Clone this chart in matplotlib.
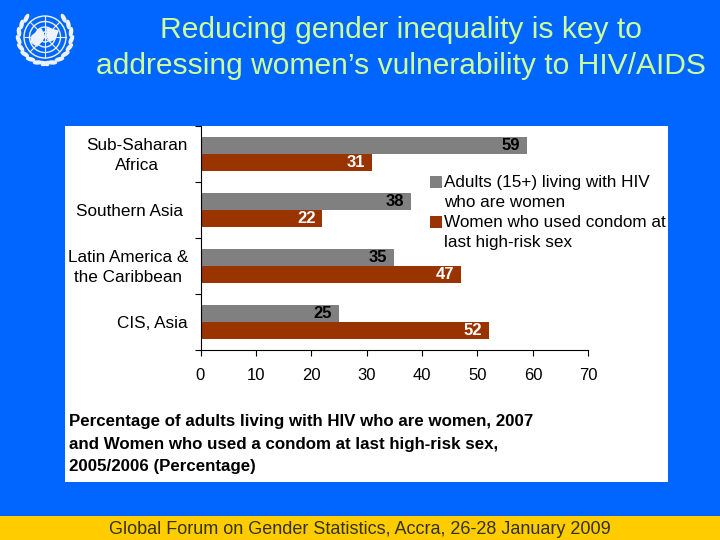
import numpy as np
import matplotlib
matplotlib.use("Agg")
import matplotlib.pyplot as plt
from matplotlib.patches import Circle, Ellipse, Rectangle, Polygon
from matplotlib.transforms import ScaledTranslation

plt.rcParams["font.family"] = ["Liberation Sans", "DejaVu Sans"]

W, H = 720, 540
BLUE = "#0066ff"
YELLOW = "#ffcc00"
GRAY = "#808080"
BROWN = "#993300"
PALE = "#ccff99"

categories = ["Sub-Saharan\nAfrica", "Southern Asia ", "Latin America &\nthe Caribbean", "CIS, Asia"]
hiv_women = [59, 38, 35, 25]
condom_use = [31, 22, 47, 52]
series_names = ["Adults (15+) living with HIV\nwho are women",
                "Women who used condom at\nlast high-risk sex"]
x_ticks = [0, 10, 20, 30, 40, 50, 60, 70]
title = "Reducing gender inequality is key to\naddressing women’s vulnerability to HIV/AIDS"
note_lines = ["Percentage of adults living with HIV who are women, 2007",
              "and Women who used a condom at last high-risk sex,",
              "2005/2006 (Percentage)"]
footer = "Global Forum on Gender Statistics, Accra, 26-28 January 2009"


def px_axes(fig, x0, y0, x1, y1):
    """Axes a partir de un recuadro en pixeles (origen arriba a la izquierda)."""
    return fig.add_axes([x0 / W, 1 - y1 / H, (x1 - x0) / W, (y1 - y0) / H])


def draw_logo(bg, cx, cy):
    # emblema simplificado: globo con meridianos y corona de laurel
    white = "#eef3fb"
    for r in (21, 15.5, 10, 5):
        bg.add_patch(Circle((cx, cy), r, fill=False, ec=white, lw=1.0))
    for ang in np.arange(0, 180, 45):
        dx, dy = 21 * np.cos(np.radians(ang)), 21 * np.sin(np.radians(ang))
        bg.plot([cx - dx, cx + dx], [cy - dy, cy + dy], color=white, lw=0.8)
    bg.add_patch(Polygon([(cx - 13, cy - 1), (cx - 4, cy - 8), (cx - 1, cy - 2),
                          (cx - 3, cy + 4), (cx - 8, cy + 9), (cx - 14, cy + 5)], color=white))
    bg.add_patch(Polygon([(cx + 2, cy - 9), (cx + 13, cy - 6), (cx + 10, cy + 2),
                          (cx + 5, cy + 4), (cx + 2, cy - 1)], color=white))
    for side in (-1, 1):
        for ang in np.arange(-45, 92, 17):
            a = np.radians(ang)
            ex = cx + side * 26.5 * np.cos(a)
            ey = cy + 26.5 * np.sin(a)
            bg.add_patch(Ellipse((ex, ey), 3.0, 8.5, angle=side * (ang + 18), color=white))


fig = plt.figure(figsize=(W / 100, H / 100), dpi=100, facecolor=BLUE)

# fondo, texto libre y leyenda en coordenadas de pixel
bg = fig.add_axes([0, 0, 1, 1], zorder=0)
bg.set_xlim(0, W)
bg.set_ylim(H, 0)
bg.axis("off")
bg.add_patch(Rectangle((65, 126), 603, 356, color="white", lw=0))
bg.add_patch(Rectangle((0, 516), W, 24, color=YELLOW, lw=0))
draw_logo(bg, 45, 37)

bg.text(401, 48, title, color=PALE, fontsize=21.6, ha="center", va="center", linespacing=1.36)
for y, line in zip((421.5, 444.5, 466.5), note_lines):
    bg.text(69, y, line, color="black", fontsize=12.2, fontweight="bold", va="center")
bg.text(359.5, 529, footer, color="#333300", fontsize=13, ha="center", va="center")

for y, col, name in zip((182, 222), (GRAY, BROWN), series_names):
    bg.add_patch(Rectangle((430, y - 6), 12, 12, color=col, lw=0))
    bg.text(444, y - 7, name, color="black", fontsize=12.3, va="top", linespacing=1.4)

# grafico de barras
ax = px_axes(fig, 200.5, 126, 588.3, 349.5)
ax.patch.set_alpha(0)
ax.set_zorder(1)
pos = np.arange(len(categories)) + 0.5
h = 0.305
b1 = ax.barh(pos - h / 2, hiv_women, h, color=GRAY)
b2 = ax.barh(pos + h / 2, condom_use, h, color=BROWN)
ax.set_xlim(0, 70)
ax.set_ylim(4, 0)

for bars, vals, col in ((b1, hiv_women, "black"), (b2, condom_use, "white")):
    for bar, v in zip(bars, vals):
        ax.annotate(str(v), (v, bar.get_y() + bar.get_height() / 2), xytext=(-5, 0),
                    textcoords="offset points", ha="right", va="center",
                    color=col, fontsize=12, fontweight="bold")

ax.set_xticks(x_ticks)
ax.set_yticks(np.arange(5))
ax.set_yticklabels([])
ax.set_yticks(pos, labels=categories, minor=True, ma="center", linespacing=1.4)
ax.tick_params(axis="y", which="minor", length=0, pad=9, labelsize=12.3)
ax.tick_params(axis="y", which="major", length=4, width=0.8)
ax.tick_params(axis="x", length=4, width=0.8, pad=9, labelsize=12)
ax.spines["top"].set_visible(False)
ax.spines["right"].set_visible(False)

# las etiquetas de dos lineas van un poco mas arriba
for lab in ax.get_yticklabels(minor=True):
    if "\n" in lab.get_text():
        lab.set_transform(lab.get_transform() + ScaledTranslation(0, 2 / 100, fig.dpi_scale_trans))

fig.savefig("out.png", dpi=100, facecolor=BLUE)
